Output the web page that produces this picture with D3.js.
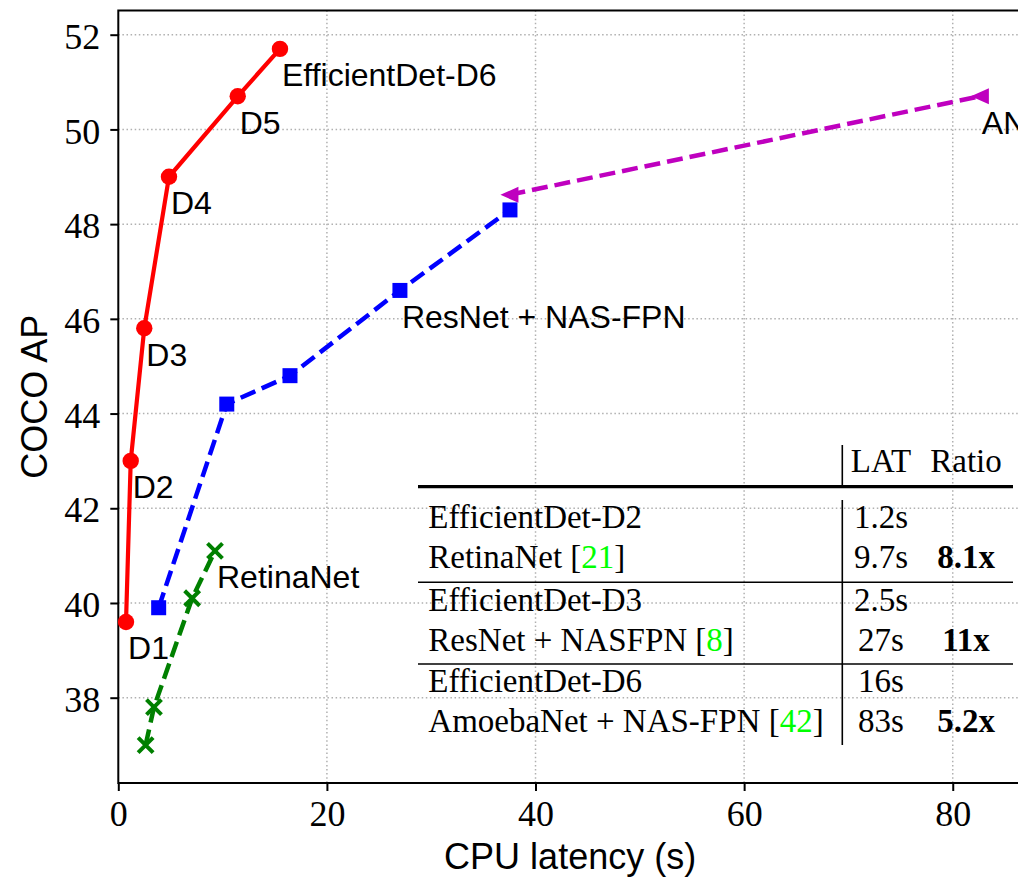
<!DOCTYPE html>
<html>
<head>
<meta charset="utf-8">
<script src="https://cdn.jsdelivr.net/npm/d3@7"></script>
<style>
  html, body { margin: 0; padding: 0; background: #fff; overflow: hidden; }
  svg { display: block; }
</style>
</head>
<body>
<svg id="chart" width="1018" height="879"></svg>
<script>
// ---- data ----
const xTicks = [0, 20, 40, 60, 80];
const yTicks = [38, 40, 42, 44, 46, 48, 50, 52];

const effLat = [0.74, 1.19, 2.49, 4.86, 11.45, 15.5];
const effAP  = [39.6, 43.0, 45.8, 49.0, 50.7, 51.7];
const effLabels = ["D1", "D2", "D3", "D4", "D5", "EfficientDet-D6"];

const resLat = [3.87, 10.4, 16.46, 27.0, 37.55];
const resAP  = [39.9, 44.2, 44.8, 46.6, 48.3];
const resLabel = "ResNet + NAS-FPN";

const retLat = [2.62, 3.42, 7.08, 9.27];
const retAP  = [37.0, 37.8, 40.1, 41.1];
const retLabel = "RetinaNet";

const amoLat = [37.5, 82.6];
const amoAP  = [48.62, 50.7];
const amoLabel = "AN";

const tableHeader = ["LAT", "Ratio"];
const tableModels = ["EfficientDet-D2", "RetinaNet", "EfficientDet-D3", "ResNet + NASFPN", "EfficientDet-D6", "AmoebaNet + NAS-FPN"];
const tableRefs   = ["", "21", "", "8", "", "42"];
const tableLat    = ["1.2s", "9.7s", "2.5s", "27s", "16s", "83s"];
const tableRatio  = ["", "8.1x", "", "11x", "", "5.2x"];

// ---- layout ----
const svg = d3.select("#chart");
const pL = 118.3, pR = 1022, pT = 10.5, pB = 783;
const x = d3.scaleLinear().domain([0, 86.64]).range([pL, pR]);
const pxPerUnit = (697.7 - 34.7) / 14;
const y = d3.scaleLinear()
  .domain([52 - (pB - 34.7) / pxPerUnit, 52 + (34.7 - pT) / pxPerUnit])
  .range([pB, pT]);

const serif = "'Liberation Serif', 'Times New Roman', serif";
const sans = "'Liberation Sans', Arial, Helvetica, sans-serif";

// grid
const grid = svg.append("g");
grid.selectAll(".gx").data(xTicks.filter(d => d > 0)).enter().append("line")
  .attr("x1", d => x(d)).attr("x2", d => x(d)).attr("y1", pT).attr("y2", pB)
  .attr("stroke", "#b0b0b0").attr("stroke-width", 1.5).attr("stroke-dasharray", "1.5,2.6");
grid.selectAll(".gy").data(yTicks).enter().append("line")
  .attr("x1", pL).attr("x2", pR).attr("y1", d => y(d)).attr("y2", d => y(d))
  .attr("stroke", "#b0b0b0").attr("stroke-width", 1.5).attr("stroke-dasharray", "1.5,2.6");

// axes
const xAxis = d3.axisBottom(x).tickValues(xTicks).tickSize(8).tickPadding(10).tickFormat(d3.format("d"));
const yAxis = d3.axisLeft(y).tickValues(yTicks).tickSize(8).tickPadding(10).tickFormat(d3.format("d"));
const gx = svg.append("g").attr("transform", `translate(0,${pB})`).call(xAxis);
const gy = svg.append("g").attr("transform", `translate(${pL},0)`).call(yAxis);
[gx, gy].forEach(g => {
  g.select(".domain").remove();
  g.attr("font-family", serif).attr("font-size", 36)
   .style("font-family", serif).style("font-size", "36px");
  g.selectAll(".tick line").attr("stroke", "#000").attr("stroke-width", 2);
  g.selectAll(".tick text").attr("fill", "#000")
    .style("font-family", serif).style("font-size", "36px").style("font-weight", "normal");
});
gx.selectAll(".tick text").attr("dy", "0.71em").attr("y", 17);
gy.selectAll(".tick text").attr("dy", "0.38em");

// spines
svg.append("rect").attr("x", pL).attr("y", pT).attr("width", pR - pL).attr("height", pB - pT)
  .attr("fill", "none").attr("stroke", "#000").attr("stroke-width", 2);

// axis labels
svg.append("text").attr("x", (pL + pR) / 2).attr("y", 869).attr("text-anchor", "middle")
  .style("font-family", sans).style("font-size", "36px").text("CPU latency (s)");
svg.append("text").attr("transform", `translate(47,${(pT + pB) / 2}) rotate(-90)`).attr("text-anchor", "middle")
  .style("font-family", sans).style("font-size", "36px").text("COCO AP");

// series
const line = d3.line().x(d => x(d[0])).y(d => y(d[1]));
const eff = d3.zip(effLat, effAP);
const res = d3.zip(resLat, resAP);
const ret = d3.zip(retLat, retAP);
const amo = d3.zip(amoLat, amoAP);
const dash = "16,7";

// EfficientDet
svg.append("path").datum(eff).attr("d", line).attr("fill", "none").attr("stroke", "#ff0000").attr("stroke-width", 4.2);
svg.selectAll(".effpt").data(eff).enter().append("circle")
  .attr("cx", d => x(d[0])).attr("cy", d => y(d[1])).attr("r", 8.2).attr("fill", "#ff0000");

// ResNet + NAS-FPN
svg.append("path").datum(res).attr("d", line).attr("fill", "none").attr("stroke", "#0000ff")
  .attr("stroke-width", 4.5).attr("stroke-dasharray", dash);
svg.selectAll(".respt").data(res).enter().append("rect")
  .attr("x", d => x(d[0]) - 7.5).attr("y", d => y(d[1]) - 7.5).attr("width", 15).attr("height", 15).attr("fill", "#0000ff");

// RetinaNet
svg.append("path").datum(ret).attr("d", line).attr("fill", "none").attr("stroke", "#008000")
  .attr("stroke-width", 4.5).attr("stroke-dasharray", dash);
svg.selectAll(".retpt").data(ret).enter().append("path")
  .attr("d", d => { const cx = x(d[0]), cy = y(d[1]), s = 7.5; return `M${cx - s},${cy - s}L${cx + s},${cy + s}M${cx - s},${cy + s}L${cx + s},${cy - s}`; })
  .attr("stroke", "#008000").attr("stroke-width", 4).attr("fill", "none");

// AmoebaNet
svg.append("path").datum(amo).attr("d", line).attr("fill", "none").attr("stroke", "#bf00bf")
  .attr("stroke-width", 4.5).attr("stroke-dasharray", dash);
svg.selectAll(".amopt").data(amo).enter().append("path")
  .attr("d", d => { const cx = x(d[0]), cy = y(d[1]); return `M${cx - 9},${cy}L${cx + 9},${cy - 8}L${cx + 9},${cy + 8}Z`; })
  .attr("fill", "#bf00bf");

// annotations
const ann = [];
eff.forEach((d, i) => ann.push([d, effLabels[i]]));
ann.push([res[3], resLabel]);
ann.push([ret[3], retLabel]);
ann.push([amo[1], amoLabel]);
svg.selectAll(".ann").data(ann).enter().append("text")
  .attr("x", d => x(d[0][0]) + 2).attr("y", d => y(d[0][1]) + 37.5)
  .style("font-family", sans).style("font-size", "32px").attr("fill", "#000").text(d => d[1]);

// table
const tbl = svg.append("g").style("font-family", serif).style("font-size", "33px").attr("fill", "#000");
const colLeft = 428.3, colLat = 881, colRatio = 966, vline = 842.3;
const rowBase = [528.3, 568.3, 610.7, 651, 691.7, 731.7];
tbl.append("text").attr("x", colLat).attr("y", 472.3).attr("text-anchor", "middle").text(tableHeader[0]);
tbl.append("text").attr("x", colRatio).attr("y", 472.3).attr("text-anchor", "middle").text(tableHeader[1]);
tbl.append("line").attr("x1", vline).attr("x2", vline).attr("y1", 445).attr("y2", 485).attr("stroke", "#000").attr("stroke-width", 1.6);
tbl.append("line").attr("x1", vline).attr("x2", vline).attr("y1", 500).attr("y2", 745).attr("stroke", "#000").attr("stroke-width", 1.6);
tbl.append("line").attr("x1", 418).attr("x2", 1013).attr("y1", 486.7).attr("y2", 486.7).attr("stroke", "#000").attr("stroke-width", 3.2);
[582.3, 664].forEach(yy => tbl.append("line").attr("x1", 418).attr("x2", 1013).attr("y1", yy).attr("y2", yy).attr("stroke", "#000").attr("stroke-width", 1.6));
tableModels.forEach((m, i) => {
  const t = tbl.append("text").attr("x", colLeft).attr("y", rowBase[i]);
  t.append("tspan").text(m);
  if (tableRefs[i]) {
    t.append("tspan").text(" [");
    t.append("tspan").attr("fill", "#00ff00").text(tableRefs[i]);
    t.append("tspan").text("]");
  }
  tbl.append("text").attr("x", colLat).attr("y", rowBase[i]).attr("text-anchor", "middle").text(tableLat[i]);
  if (tableRatio[i]) {
    tbl.append("text").attr("x", colRatio).attr("y", rowBase[i]).attr("text-anchor", "middle").attr("font-weight", "bold").text(tableRatio[i]);
  }
});
</script>
</body>
</html>
